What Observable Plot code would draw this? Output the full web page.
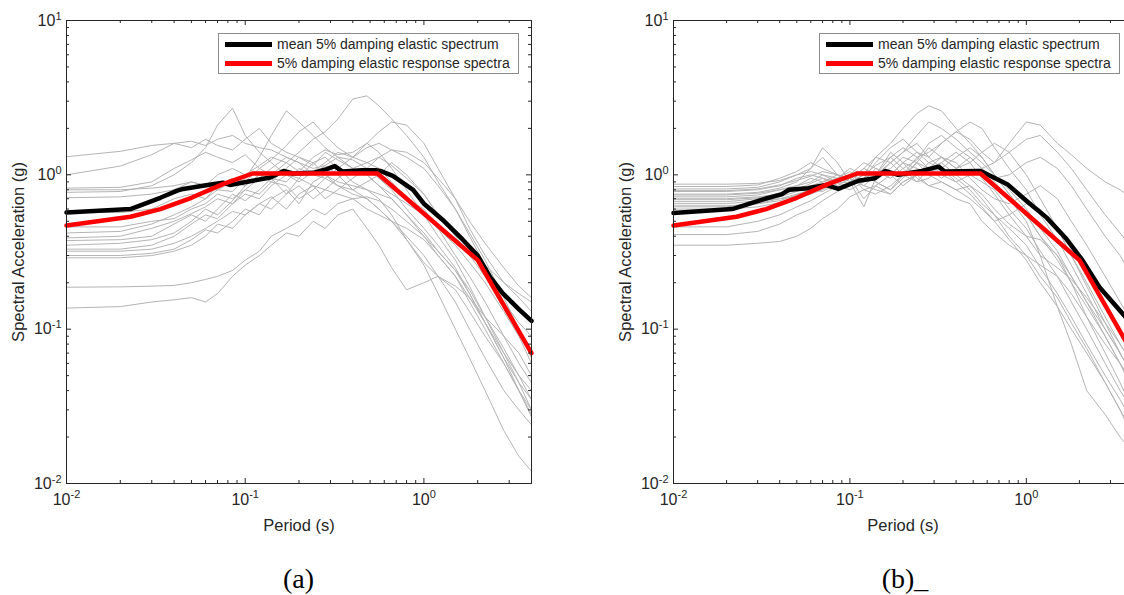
<!DOCTYPE html>
<html><head><meta charset="utf-8">
<script src="https://cdn.jsdelivr.net/npm/d3@7"></script>
<script src="https://cdn.jsdelivr.net/npm/@observablehq/plot@0.6"></script>
<style>
html,body{margin:0;padding:0;width:1124px;height:595px;overflow:hidden;background:#fff;}
#root{position:relative;width:1124px;height:595px;overflow:hidden;font-family:"Liberation Sans",Arial,sans-serif;}
.panel{position:absolute;top:0;}
.legend{position:absolute;border:1px solid #8c8c8c;background:#fff;box-sizing:border-box;}
.legend .row{position:absolute;left:0;right:0;height:19px;}
.legend .sw{position:absolute;left:6px;width:47px;height:5px;top:7px;}
.legend .lbl{position:absolute;left:58px;top:0;font-size:14px;line-height:19px;color:#262626;white-space:nowrap;}
.cap{position:absolute;font-family:"Liberation Serif","Times New Roman",serif;font-size:28px;line-height:28px;color:#000;transform:translateX(-50%);white-space:nowrap;}
</style></head><body><div id="root"></div><script>
// ---------------- data ----------------
const periods = [0.01,0.02,0.03,0.04,0.05,0.06,0.07,0.085,0.1,0.12,0.14,0.17,0.2,0.24,0.28,0.33,0.4,0.48,0.56,0.66,0.8,1.0,1.2,1.5,1.8,2.2,2.8,3.4,4.0];

const recordsA = [
 [1.31,1.42,1.55,1.60,1.65,1.55,1.70,1.80,1.60,1.50,1.45,1.30,1.20,1.10,1.15,1.30,1.25,1.10,0.95,0.80,0.60,0.45,0.35,0.25,0.17,0.11,0.065,0.045,0.035],
 [1.00,1.14,1.35,1.60,1.50,1.70,1.55,1.45,1.70,2.00,1.60,1.40,1.30,1.20,1.00,0.90,0.85,0.80,0.75,0.70,0.55,0.40,0.30,0.22,0.15,0.10,0.06,0.04,0.028],
 [0.82,0.83,0.90,1.10,1.25,1.40,1.30,1.20,1.35,1.10,1.25,1.55,1.90,2.20,1.80,1.50,1.30,1.20,1.10,0.90,0.70,0.60,0.45,0.30,0.22,0.15,0.09,0.06,0.045],
 [0.77,0.78,0.85,1.00,1.20,1.50,2.10,2.70,1.80,1.40,1.20,1.00,0.95,0.85,0.80,0.75,0.70,0.72,0.68,0.60,0.50,0.40,0.32,0.24,0.18,0.12,0.075,0.05,0.04],
 [0.71,0.72,0.75,0.80,0.90,0.85,1.00,1.10,1.00,1.15,1.30,1.20,1.40,1.70,1.90,2.30,3.10,3.25,2.80,2.30,1.80,1.30,0.90,0.60,0.40,0.26,0.15,0.10,0.07],
 [0.42,0.43,0.48,0.55,0.62,0.70,0.80,0.78,0.95,1.30,1.80,2.60,2.20,1.80,1.50,1.30,1.10,1.00,0.85,0.70,0.55,0.42,0.32,0.24,0.17,0.11,0.065,0.04,0.027],
 [0.39,0.40,0.45,0.50,0.56,0.62,0.70,0.65,0.75,0.70,0.85,1.00,0.90,1.05,1.20,1.40,1.30,1.50,1.60,1.45,1.30,1.10,0.85,0.60,0.42,0.28,0.16,0.10,0.065],
 [0.375,0.38,0.40,0.48,0.55,0.50,0.60,0.75,0.68,0.80,0.95,0.75,0.85,0.70,0.80,0.95,1.10,1.00,0.85,0.75,0.65,0.55,0.45,0.35,0.27,0.20,0.13,0.09,0.06],
 [0.35,0.36,0.38,0.42,0.50,0.60,0.55,0.68,0.85,1.00,0.90,1.10,1.30,1.15,1.40,1.25,1.10,1.20,1.30,1.15,0.95,0.75,0.55,0.42,0.33,0.26,0.20,0.17,0.15],
 [0.32,0.32,0.33,0.36,0.40,0.45,0.50,0.58,0.55,0.65,0.72,0.60,0.75,0.85,0.70,0.80,0.95,1.10,1.30,1.45,1.40,1.20,0.95,0.70,0.50,0.36,0.25,0.19,0.16],
 [0.30,0.30,0.31,0.33,0.38,0.44,0.42,0.50,0.60,0.55,0.70,0.80,0.65,0.90,1.00,0.85,0.75,0.70,0.60,0.50,0.40,0.30,0.22,0.15,0.10,0.065,0.04,0.03,0.024],
 [0.29,0.29,0.30,0.32,0.35,0.40,0.48,0.45,0.55,0.65,0.60,0.75,0.95,1.20,1.30,1.10,0.90,0.80,0.70,0.55,0.38,0.27,0.22,0.19,0.16,0.12,0.09,0.07,0.05],
 [0.187,0.188,0.19,0.192,0.20,0.21,0.22,0.24,0.28,0.32,0.40,0.45,0.50,0.60,0.55,0.65,0.70,0.60,0.55,0.50,0.45,0.38,0.30,0.22,0.16,0.11,0.07,0.05,0.035],
 [0.137,0.14,0.15,0.155,0.16,0.15,0.17,0.22,0.26,0.30,0.35,0.42,0.40,0.50,0.45,0.55,0.60,0.45,0.35,0.25,0.18,0.20,0.22,0.18,0.13,0.09,0.06,0.04,0.03],
 [0.57,0.57,0.60,0.70,0.75,0.70,0.85,0.95,0.90,1.10,1.00,1.20,1.05,1.30,1.45,1.35,1.40,1.60,1.40,1.10,0.80,0.55,0.40,0.28,0.19,0.12,0.07,0.045,0.03],
 [0.33,0.33,0.35,0.40,0.48,0.55,0.52,0.65,0.80,0.75,0.90,0.85,0.70,0.80,0.95,0.85,0.80,0.70,0.60,0.50,0.38,0.26,0.17,0.10,0.065,0.04,0.022,0.015,0.012],
 [0.80,0.80,0.82,0.85,0.90,0.85,0.80,0.90,0.85,1.00,0.95,0.90,1.10,1.00,0.95,1.10,1.30,1.60,1.90,2.20,2.10,1.60,1.10,0.70,0.45,0.30,0.20,0.16,0.13],
 [0.46,0.46,0.50,0.52,0.60,0.65,0.75,0.70,0.80,0.95,1.10,1.30,1.20,1.00,1.15,1.00,0.80,0.90,1.00,1.20,1.00,0.75,0.55,0.40,0.30,0.22,0.15,0.11,0.09]
];

const recordsB = [
 [0.84,0.84,0.86,0.95,1.05,1.20,1.10,1.00,0.95,1.10,1.30,1.60,2.00,2.50,2.80,2.60,2.00,1.60,1.30,1.00,0.75,0.55,0.40,0.28,0.20,0.14,0.09,0.06,0.045],
 [0.81,0.81,0.83,0.90,1.00,1.10,1.50,1.20,0.90,0.62,0.95,1.20,1.40,1.80,2.20,2.00,1.70,1.40,1.20,1.00,0.80,0.60,0.45,0.32,0.22,0.15,0.10,0.07,0.05],
 [0.78,0.78,0.80,0.85,0.95,1.00,0.95,0.90,1.00,1.20,1.10,1.00,1.20,1.40,1.30,1.60,1.90,1.70,1.40,1.20,1.60,2.20,2.10,1.60,1.35,1.10,0.90,0.80,0.70],
 [0.75,0.75,0.77,0.82,0.90,1.10,1.30,1.00,0.85,0.95,1.20,1.50,1.70,1.40,1.20,1.30,1.10,1.00,0.90,0.80,0.60,0.45,0.32,0.22,0.15,0.10,0.06,0.04,0.03],
 [0.72,0.72,0.74,0.80,0.85,0.90,1.00,0.95,1.05,0.90,1.00,1.30,1.10,1.25,1.60,1.80,1.50,1.30,1.10,0.95,1.00,1.20,1.30,1.10,0.85,0.60,0.40,0.30,0.22],
 [0.70,0.70,0.72,0.75,0.80,0.85,0.90,1.00,0.95,0.70,0.85,1.00,1.20,1.10,1.00,0.90,0.80,0.85,0.70,0.55,0.40,0.30,0.22,0.16,0.11,0.075,0.045,0.03,0.02],
 [0.67,0.67,0.70,0.72,0.78,0.85,0.82,0.95,1.10,1.00,1.30,1.20,1.00,0.90,1.10,1.30,1.20,0.95,0.80,0.70,0.65,0.75,0.85,0.70,0.50,0.35,0.22,0.15,0.11],
 [0.65,0.65,0.68,0.70,0.75,0.80,0.85,0.90,0.88,1.00,0.90,0.80,0.95,1.20,1.50,1.30,1.10,1.20,1.40,1.60,1.40,1.00,0.70,0.45,0.30,0.20,0.12,0.08,0.06],
 [0.62,0.62,0.65,0.70,0.72,0.78,0.85,0.80,0.90,1.10,1.00,1.20,1.40,1.60,1.30,1.10,0.90,0.75,0.62,0.50,0.38,0.28,0.20,0.14,0.10,0.07,0.045,0.03,0.022],
 [0.60,0.60,0.62,0.66,0.70,0.75,0.80,0.90,1.00,0.90,1.10,1.00,0.85,1.00,1.20,1.10,1.30,1.50,1.30,1.00,0.75,0.55,0.40,0.30,0.22,0.15,0.09,0.06,0.04],
 [0.46,0.46,0.50,0.55,0.62,0.68,0.75,0.85,0.95,0.85,1.00,1.10,1.30,1.20,1.00,1.10,0.95,0.80,0.65,0.55,0.45,0.35,0.25,0.17,0.12,0.08,0.05,0.035,0.025],
 [0.41,0.41,0.43,0.48,0.55,0.60,0.68,0.78,0.90,1.00,0.90,0.80,1.00,1.20,1.10,0.95,1.10,1.30,1.10,0.90,0.70,0.50,0.30,0.14,0.08,0.04,0.028,0.02,0.016],
 [0.35,0.35,0.36,0.37,0.40,0.45,0.52,0.60,0.72,0.80,0.85,0.75,0.90,1.00,1.10,1.00,0.90,1.00,1.10,1.20,1.40,1.70,1.80,1.40,1.10,0.80,0.55,0.42,0.33],
 [0.87,0.87,0.88,0.92,1.00,1.05,1.00,0.90,0.95,0.85,0.80,0.75,0.90,1.00,0.85,0.80,0.70,0.65,0.50,0.42,0.35,0.30,0.26,0.22,0.17,0.12,0.08,0.06,0.045],
 [0.74,0.74,0.76,0.80,0.85,0.95,0.90,0.95,1.00,0.80,0.75,0.85,1.00,1.30,1.40,1.60,1.90,2.20,2.00,1.50,1.10,0.80,0.55,0.38,0.26,0.17,0.10,0.07,0.05],
 [0.69,0.69,0.71,0.74,0.80,0.88,0.95,0.85,0.80,0.90,1.00,1.40,1.20,0.95,0.85,0.90,0.80,0.70,0.60,0.50,0.55,0.65,0.60,0.45,0.30,0.19,0.11,0.07,0.05],
 [0.79,0.79,0.81,0.86,0.92,0.98,1.05,1.00,0.90,1.00,1.15,1.30,1.50,1.30,1.10,1.20,1.40,1.20,0.95,0.75,0.55,0.40,0.30,0.25,0.21,0.16,0.11,0.08,0.06],
 [0.63,0.63,0.65,0.68,0.74,0.80,0.78,0.88,0.85,0.95,1.05,0.95,1.10,0.90,0.95,1.20,1.00,0.85,0.75,0.60,0.48,0.40,0.38,0.30,0.20,0.12,0.07,0.045,0.03]
];

const meanPeriodsA = [0.01,0.0228,0.0335,0.0417,0.045,0.058,0.075,0.082,0.11,0.138,0.164,0.185,0.24,0.286,0.317,0.35,0.45,0.54,0.57,0.67,0.87,1.0,1.3,1.65,2.0,2.35,2.77,3.44,4.0];
const meanValuesA  = [0.57,0.60,0.71,0.79,0.81,0.85,0.89,0.86,0.915,0.96,1.06,1.02,1.03,1.09,1.14,1.05,1.07,1.07,1.06,0.985,0.80,0.65,0.50,0.38,0.30,0.217,0.17,0.133,0.113];

const meanPeriodsB = [0.01,0.0215,0.0331,0.0412,0.045,0.058,0.073,0.086,0.112,0.139,0.158,0.188,0.256,0.318,0.345,0.53,0.55,0.78,1.0,1.3,1.67,2.08,2.6,3.65,4.0];
const meanValuesB  = [0.565,0.60,0.70,0.75,0.80,0.82,0.86,0.81,0.915,0.95,1.06,1.00,1.06,1.13,1.05,1.06,1.06,0.87,0.68,0.53,0.39,0.28,0.187,0.12,0.105];

const targetPeriods = [0.01,0.0228,0.0335,0.05,0.075,0.11,0.55,2.0,4.0];
const targetValues  = [0.47,0.535,0.60,0.71,0.87,1.02,1.02,0.28,0.07];

const xTicks = [0.01, 0.1, 1];
const yTicks = [0.01, 0.1, 1, 10];
const legendLabels = ["mean 5% damping elastic spectrum", "5% damping elastic response spectra"];
const xTitle = "Period (s)";
const yTitle = "Spectral Acceleration (g)";
const captions = ["(a)", "(b)_"];

// ---------------- drawing ----------------
const AX = "#262626";
function minorOf(majors, lo, hi) {
  const out = [];
  for (const m of majors) for (let k = 2; k <= 9; k++) { const v = m * k; if (v > lo && v < hi) out.push(v); }
  return out;
}

function makePanel(records, meanP, meanV, svgLeft, plotW) {
  const ML = 66, MR = 12, MT = 20, PH = 463, MB = 60;
  const gray = [];
  records.forEach((rec, i) => rec.forEach((v, j) => { if (j < periods.length) gray.push({id: i, T: periods[j], Sa: v}); }));
  const mean = meanP.map((T, i) => ({T, Sa: meanV[i]}));
  const tgt = targetPeriods.map((T, i) => ({T, Sa: targetValues[i]}));
  const xMinor = minorOf([0.01, 0.1, 1], 0.01, 3.99);
  const yMinor = minorOf([0.01, 0.1, 1], 0.01, 10);
  const svg = Plot.plot({
    width: ML + plotW + MR, height: MT + PH + MB,
    marginLeft: ML, marginRight: MR, marginTop: MT, marginBottom: MB,
    style: {background: "transparent", fontFamily: "'Liberation Sans', Arial, sans-serif", overflow: "visible"},
    x: {type: "log", domain: [0.01, 4], axis: null},
    y: {type: "log", domain: [0.01, 10], axis: null},
    marks: [
      Plot.line(gray, {x: "T", y: "Sa", z: "id", stroke: "#b4b4b4", strokeWidth: 1}),
      Plot.line(mean, {x: "T", y: "Sa", stroke: "#000", strokeWidth: 4.5, strokeLinejoin: "round"}),
      Plot.line(tgt, {x: "T", y: "Sa", stroke: "#ff0000", strokeWidth: 4.5, strokeLinejoin: "round"}),
      Plot.frame({stroke: AX, strokeWidth: 1}),
      Plot.ruleX(xTicks, {x: d => d, insetTop: PH - 5, stroke: AX}),
      Plot.ruleX(xTicks, {x: d => d, insetBottom: PH - 5, stroke: AX}),
      Plot.ruleX(xMinor, {x: d => d, insetTop: PH - 3, stroke: AX}),
      Plot.ruleX(xMinor, {x: d => d, insetBottom: PH - 3, stroke: AX}),
      Plot.ruleY(yTicks, {y: d => d, insetRight: plotW - 5, stroke: AX}),
      Plot.ruleY(yTicks, {y: d => d, insetLeft: plotW - 5, stroke: AX}),
      Plot.ruleY(yMinor, {y: d => d, insetRight: plotW - 3, stroke: AX}),
      Plot.ruleY(yMinor, {y: d => d, insetLeft: plotW - 3, stroke: AX}),
      Plot.text(xTicks, {x: d => d, frameAnchor: "bottom", dy: 21, textAnchor: "middle", text: d => String(Math.round(Math.log10(d))), fontSize: 16, fill: AX}),
      Plot.text(yTicks, {y: d => d, frameAnchor: "left", dx: -5, textAnchor: "end", text: d => String(Math.round(Math.log10(d))), fontSize: 16, fill: AX}),
      Plot.text([xTitle], {frameAnchor: "bottom", dy: 47, textAnchor: "middle", text: d => d, fontSize: 16.5, fill: AX}),
      Plot.text([yTitle], {frameAnchor: "left", dx: -48, rotate: -90, textAnchor: "middle", text: d => d, fontSize: 16.5, fill: AX})
    ]
  });
  // superscript tick labels
  d3.select(svg).selectAll("text").each(function () {
    const t = this.textContent;
    if (/^-?\d+$/.test(t)) {
      this.textContent = "";
      d3.select(this).append("tspan").text("10");
      d3.select(this).append("tspan").attr("dy", "-0.55em").attr("font-size", "11px").text(t);
    }
  });
  svg.classList.add("panel");
  svg.style.position = "absolute";
  svg.style.left = svgLeft + "px";
  svg.style.top = "0px";
  return {svg, plotLeft: svgLeft + ML, plotRight: svgLeft + ML + plotW, top: MT};
}

const root = document.getElementById("root");
function addLegend(p) {
  const w = 301, h = 41;
  const lg = document.createElement("div");
  lg.className = "legend";
  lg.style.left = (p.plotRight - 12 - w) + "px";
  lg.style.top = (p.top + 13) + "px";
  lg.style.width = w + "px"; lg.style.height = h + "px";
  const colors = ["#000", "#ff0000"];
  legendLabels.forEach((lab, i) => {
    const row = document.createElement("div");
    row.className = "row"; row.style.top = (1 + i * 19) + "px";
    const sw = document.createElement("div"); sw.className = "sw"; sw.style.background = colors[i];
    const tx = document.createElement("div"); tx.className = "lbl"; tx.textContent = lab;
    row.appendChild(sw); row.appendChild(tx); lg.appendChild(row);
  });
  root.appendChild(lg);
}
function addCaption(text, cx) {
  const c = document.createElement("div");
  c.className = "cap"; c.textContent = text;
  c.style.left = cx + "px"; c.style.top = "565px";
  root.appendChild(c);
}

const pa = makePanel(recordsA, meanPeriodsA, meanValuesA, 0, 465);
const pb = makePanel(recordsB, meanPeriodsB, meanValuesB, 607, 459);
root.appendChild(pa.svg); root.appendChild(pb.svg);
addLegend(pa); addLegend(pb);
addCaption(captions[0], (pa.plotLeft + pa.plotRight) / 2);
addCaption(captions[1], 905);
</script></body></html>
